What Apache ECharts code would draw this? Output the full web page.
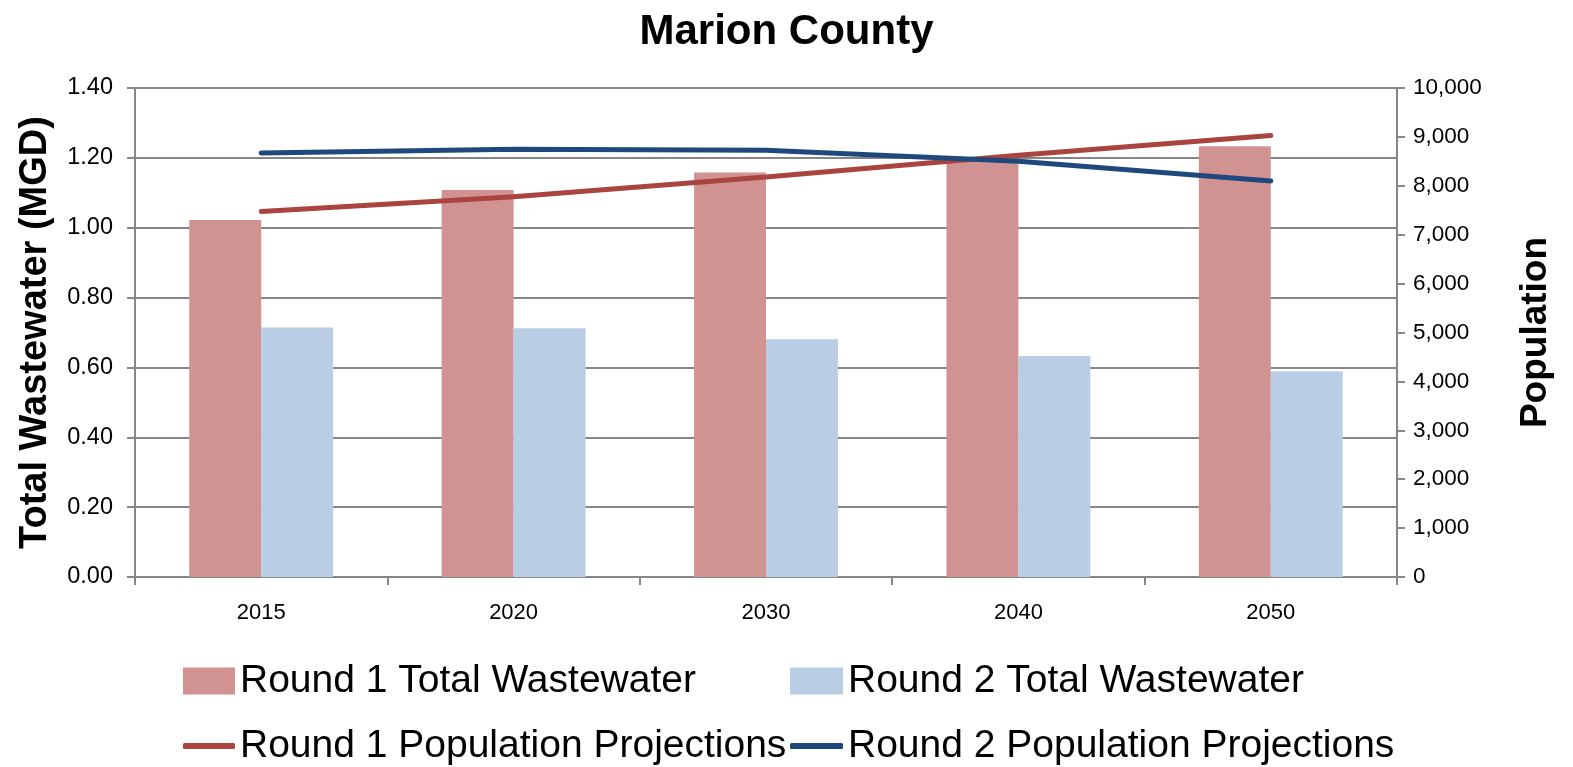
<!DOCTYPE html>
<html>
<head>
<meta charset="utf-8">
<script src="https://cdn.jsdelivr.net/npm/echarts@6/dist/echarts.min.js"></script>
<style>html,body{margin:0;padding:0;background:#fff}#c{width:1573px;height:767px}</style>
</head>
<body>
<div id="c"></div>
<script>
const categories = ['2015', '2020', '2030', '2040', '2050'];
const round1Wastewater = [1.022, 1.108, 1.158, 1.19, 1.233];
const round2Wastewater = [0.714, 0.712, 0.681, 0.633, 0.589];
const round1Population = [7475, 7775, 8180, 8625, 9030];
const round2Population = [8672, 8745, 8727, 8500, 8100];
const leftTicks = { min: 0, max: 1.4, interval: 0.2 };
const rightTicks = { min: 0, max: 10000, interval: 1000 };

const FONT = '"Liberation Sans", Arial, sans-serif';
const AX = '#868686';
const chart = echarts.init(document.getElementById('c'), null, { renderer: 'canvas' });
const legendText = { fontSize: 39, fontFamily: FONT, color: '#000', lineHeight: 40 };
chart.setOption({
  animation: false,
  backgroundColor: '#fff',
  title: {
    text: 'Marion County', left: 'center', top: 6,
    textStyle: { fontSize: 42, fontWeight: 'bold', fontFamily: FONT, color: '#000' }
  },
  grid: { left: 135, right: 176, top: 88, bottom: 190, outerBoundsMode: 'none', containLabel: false },
  legend: [
    { data: ['Round 1 Total Wastewater'], left: 183, top: 661, padding: 0, itemWidth: 52, itemHeight: 27, icon: 'rect', textStyle: legendText },
    { data: ['Round 2 Total Wastewater'], left: 790, top: 661, padding: 0, itemWidth: 53, itemHeight: 27, icon: 'rect', textStyle: legendText },
    { data: ['Round 1 Population Projections'], left: 183, top: 726, padding: 0, itemWidth: 52, itemHeight: 6, icon: 'roundRect', textStyle: legendText },
    { data: ['Round 2 Population Projections'], left: 790, top: 726, padding: 0, itemWidth: 53, itemHeight: 6, icon: 'roundRect', textStyle: legendText }
  ],
  xAxis: {
    type: 'category', data: categories,
    axisLine: { lineStyle: { color: AX, width: 2 } },
    axisTick: { show: true, length: 8, lineStyle: { color: AX, width: 2 } },
    axisLabel: { fontSize: 22, fontFamily: FONT, color: '#000', margin: 25 }
  },
  yAxis: [
    {
      type: 'value', min: leftTicks.min, max: leftTicks.max, interval: leftTicks.interval,
      name: 'Total Wastewater (MGD)', nameLocation: 'middle', nameGap: 80, nameRotate: 90,
      nameTextStyle: { fontSize: 38, fontWeight: 'bold', fontFamily: FONT, color: '#000' },
      axisLine: { show: true, lineStyle: { color: AX, width: 2 } },
      axisTick: { show: true, length: 8, lineStyle: { color: AX, width: 2 } },
      axisLabel: { fontSize: 23.5, fontFamily: FONT, color: '#000', margin: 22, formatter: v => v.toFixed(2) },
      splitLine: { show: true, lineStyle: { color: AX, width: 2 } }
    },
    {
      type: 'value', min: rightTicks.min, max: rightTicks.max, interval: rightTicks.interval,
      name: 'Population', nameLocation: 'middle', nameGap: 120, nameRotate: 90,
      nameTextStyle: { fontSize: 37, fontWeight: 'bold', fontFamily: FONT, color: '#000' },
      axisLine: { show: true, lineStyle: { color: AX, width: 2 } },
      axisTick: { show: true, length: 8, lineStyle: { color: AX, width: 2 } },
      axisLabel: { fontSize: 22.5, fontFamily: FONT, color: '#000', margin: 16, formatter: v => v.toLocaleString('en-US') },
      splitLine: { show: false }
    }
  ],
  series: [
    { name: 'Round 1 Total Wastewater', type: 'bar', data: round1Wastewater, yAxisIndex: 0,
      barGap: '0%', barCategoryGap: '43%', itemStyle: { color: '#D19392' }, z: 2 },
    { name: 'Round 2 Total Wastewater', type: 'bar', data: round2Wastewater, yAxisIndex: 0,
      itemStyle: { color: '#B9CDE5' }, z: 2 },
    { name: 'Round 1 Population Projections', type: 'line', data: round1Population, yAxisIndex: 1,
      symbol: 'none', lineStyle: { color: '#A9443F', width: 5, cap: 'round' }, itemStyle: { color: '#A9443F' }, z: 3 },
    { name: 'Round 2 Population Projections', type: 'line', data: round2Population, yAxisIndex: 1,
      symbol: 'none', lineStyle: { color: '#1F497D', width: 5, cap: 'round' }, itemStyle: { color: '#1F497D' }, z: 4 }
  ]
});
</script>
</body>
</html>
